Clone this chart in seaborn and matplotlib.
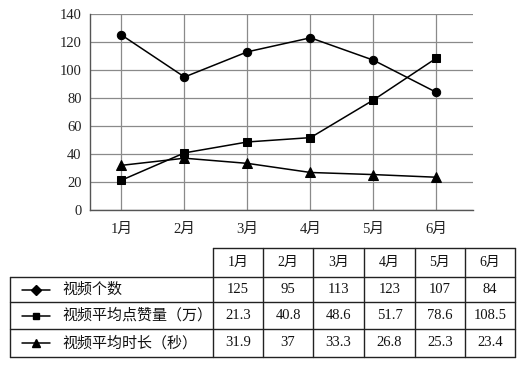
import matplotlib
matplotlib.use("Agg")
import matplotlib.pyplot as plt
import pandas as pd
import seaborn as sns

# ==============================
# DATOS
# ==============================
months = ["1月", "2月", "3月", "4月", "5月", "6月"]
video_count = [125, 95, 113, 123, 107, 84]
avg_likes = [21.3, 40.8, 48.6, 51.7, 78.6, 108.5]
avg_duration = [31.9, 37, 33.3, 26.8, 25.3, 23.4]
series_names = ["视频个数", "视频平均点赞量（万）", "视频平均时长（秒）"]
chart_markers = ["o", "s", "^"]
table_markers = ["D", "s", "^"]
table_text = [["125", "95", "113", "123", "107", "84"],
              ["21.3", "40.8", "48.6", "51.7", "78.6", "108.5"],
              ["31.9", "37", "33.3", "26.8", "25.3", "23.4"]]
y_ticks = [0, 20, 40, 60, 80, 100, 120, 140]

# ==============================
# CONFIGURACION VISUAL
# ==============================
sns.set_theme(style="white")
plt.rcParams["font.family"] = ["Liberation Serif", "Noto Sans CJK SC", "DejaVu Sans"]

W, H = 532, 366
fig = plt.figure(figsize=(W / 100, H / 100), dpi=100)

def px(x0, y0, x1, y1):
    return [x0 / W, 1 - y1 / H, (x1 - x0) / W, (y1 - y0) / H]

ax = fig.add_axes(px(90, 14, 473, 210))

df = pd.DataFrame({"month": months * 3,
                   "value": video_count + avg_likes + avg_duration,
                   "series": sum([[s] * 6 for s in series_names], [])})

for name, mk, ms in zip(series_names, chart_markers, [6, 5.5, 7]):
    sns.lineplot(data=df[df["series"] == name], x="month", y="value",
                 marker=mk, markersize=ms, color="black", linewidth=1.1,
                 markeredgecolor="black", ax=ax, legend=False, zorder=3)

ax.set_xlim(-0.5, 5.58)
ax.set_ylim(0, 140)
ax.set_yticks(y_ticks)
ax.grid(True, color="#8a8a8a", linewidth=0.9)
ax.set_axisbelow(True)
for side in ["top", "right"]:
    ax.spines[side].set_visible(False)
for side in ["left", "bottom"]:
    ax.spines[side].set_color("#555555")
    ax.spines[side].set_linewidth(1.0)
ax.tick_params(length=0, labelsize=10.5, colors="#222222")
ax.tick_params(axis="x", pad=9)
ax.tick_params(axis="y", pad=6)
ax.set_xlabel("")
ax.set_ylabel("")

# ==============================
# TABLA
# ==============================
tab = fig.add_axes([0, 0, 1, 1])
tab.set_xlim(0, W)
tab.set_ylim(H, 0)
tab.axis("off")

col_x = [10, 213, 263, 313, 364, 415, 465, 515]
row_y = [248, 277, 302, 329, 357]
lc = "#222222"
lw = 1.0
# bordes
tab.plot([col_x[1], col_x[-1]], [row_y[0], row_y[0]], color=lc, lw=lw)
for y in row_y[1:]:
    tab.plot([col_x[0], col_x[-1]], [y, y], color=lc, lw=lw)
tab.plot([col_x[0], col_x[0]], [row_y[1], row_y[-1]], color=lc, lw=lw)
for x in col_x[1:]:
    tab.plot([x, x], [row_y[0], row_y[-1]], color=lc, lw=lw)

for j, m in enumerate(months):
    cx = (col_x[j + 1] + col_x[j + 2]) / 2
    tab.text(cx, (row_y[0] + row_y[1]) / 2, m, ha="center", va="center",
             fontsize=10, color="#111111")

for i, name in enumerate(series_names):
    cy = (row_y[i + 1] + row_y[i + 2]) / 2
    tab.plot([22, 50], [cy, cy], color="black", lw=1.1)
    tab.plot([36], [cy], marker=table_markers[i], color="black",
             markersize=[5, 4.5, 6][i])
    tab.text(62, cy, name, ha="left", va="center", fontsize=10.8, color="#111111")
    for j, t in enumerate(table_text[i]):
        cx = (col_x[j + 1] + col_x[j + 2]) / 2
        tab.text(cx, cy, t, ha="center", va="center", fontsize=10.5, color="#111111")

fig.savefig("out.png", dpi=100, facecolor="white")
